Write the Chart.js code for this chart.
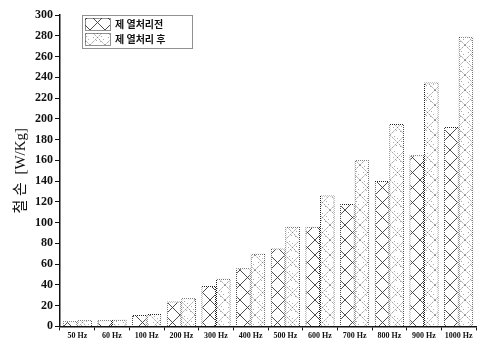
<!DOCTYPE html>
<html>
<head>
<meta charset="utf-8">
<script src="https://cdn.jsdelivr.net/npm/chart.js@4/dist/chart.umd.min.js"></script>
<style>
  html, body { margin: 0; padding: 0; background: #fff; }
  #wrap { width: 478px; height: 345px; }
</style>
</head>
<body>
<div id="wrap"><canvas id="c" width="478" height="345"></canvas></div>
<script>
// Iron loss per frequency, before and after re-annealing
const categories = ['50 Hz', '60 Hz', '100 Hz', '200 Hz', '300 Hz', '400 Hz', '500 Hz', '600 Hz', '700 Hz', '800 Hz', '900 Hz', '1000 Hz'];
const seriesNames = ['제 열처리전', '제 열처리 후'];
const beforeValues = [5, 6, 11, 24, 39, 56, 75, 96, 118, 140, 165, 192];
const afterValues  = [6, 6.5, 12, 27, 46, 70, 96, 126, 160, 195, 235, 279];
const yTicks = [0, 20, 40, 60, 80, 100, 120, 140, 160, 180, 200, 220, 240, 260, 280, 300];

// Cross-hatch fill patterns
function hatch(light) {
  const s = 15;
  const p = document.createElement('canvas');
  p.width = s; p.height = s;
  const g = p.getContext('2d');
  g.fillStyle = '#fff';
  g.fillRect(0, 0, s, s);
  g.strokeStyle = light ? '#777' : '#3a3a3a';
  g.lineWidth = light ? 0.8 : 0.9;
  if (light) g.setLineDash([1.5, 1]);
  g.beginPath();
  g.moveTo(0, 0); g.lineTo(s, s);
  g.moveTo(s, 0); g.lineTo(0, s);
  g.stroke();
  if (light) {
    g.fillStyle = '#aaa';
    const dots = [[3,7],[7,3],[10,11],[11,6],[2,12],[6,10],[12,2],[4,1],[13,9]];
    dots.forEach(d => g.fillRect(d[0], d[1], 1, 1));
  }
  return g.createPattern(p, 'repeat');
}
function dotted() {
  const p = document.createElement('canvas');
  p.width = 2; p.height = 2;
  const g = p.getContext('2d');
  g.fillStyle = '#fff'; g.fillRect(0, 0, 2, 2);
  g.fillStyle = '#222';
  g.fillRect(0, 0, 1, 1); g.fillRect(1, 1, 1, 1);
  return g.createPattern(p, 'repeat');
}
const fillBefore = hatch(false);
const fillAfter = hatch(true);
const edge = dotted();

const serif = '"Liberation Serif", "DejaVu Serif", serif';

// Legend box drawn inside the plot area
const boxLegend = {
  id: 'boxLegend',
  afterDraw(chart) {
    const ctx = chart.ctx;
    const x = 82, y = 15, w = 110, h = 33;
    ctx.save();
    ctx.fillStyle = '#fff';
    ctx.fillRect(x, y, w, h);
    ctx.strokeStyle = '#222';
    ctx.lineWidth = 1;
    ctx.setLineDash([1, 1]);
    ctx.strokeRect(x + 0.5, y + 0.5, w, h);
    const fills = [fillBefore, fillAfter];
    chart.data.datasets.forEach((ds, i) => {
      const ry = y + 3 + i * 15;
      ctx.fillStyle = fills[i];
      ctx.fillRect(x + 3, ry, 25, 12);
      ctx.strokeStyle = '#222';
      ctx.setLineDash([1, 1]);
      ctx.strokeRect(x + 3.5, ry + 0.5, 25, 12);
      ctx.setLineDash([]);
      ctx.fillStyle = '#111';
      ctx.font = 'bold 10px "Noto Sans CJK KR", sans-serif';
      ctx.textBaseline = 'middle';
      ctx.fillText(ds.label, x + 33, ry + 6.5);
    });
    ctx.restore();
  }
};

new Chart(document.getElementById('c'), {
  type: 'bar',
  data: {
    labels: categories,
    datasets: [
      { label: seriesNames[0], data: beforeValues, backgroundColor: fillBefore, borderColor: edge, borderWidth: 1 },
      { label: seriesNames[1], data: afterValues, backgroundColor: fillAfter, borderColor: edge, borderWidth: 1 }
    ]
  },
  options: {
    responsive: false,
    animation: false,
    layout: { padding: { top: 15, right: 2, bottom: 3, left: 12 } },
    datasets: { bar: { categoryPercentage: 0.84, barPercentage: 1.0 } },
    plugins: { legend: { display: false }, tooltip: { enabled: false } },
    scales: {
      x: {
        offset: true,
        border: { color: '#111', width: 1.5 },
        grid: { drawOnChartArea: false, drawTicks: true, tickLength: 4, color: '#111', offset: true },
        ticks: { color: '#111', font: { family: serif, size: 8, weight: 'bold' }, maxRotation: 0, autoSkip: false, padding: 1 }
      },
      y: {
        min: 0, max: 300,
        afterFit(s) { s.width = 48; },
        afterBuildTicks(s) {
          const t = [];
          for (let v = 0; v <= 300; v += 10) t.push({ value: v });
          s.ticks = t;
        },
        border: { color: '#111', width: 1.5 },
        grid: { drawOnChartArea: false, tickLength: 5, color: '#111' },
        ticks: {
          color: '#111',
          font: { family: serif, size: 12, weight: 'bold' },
          padding: 2,
          callback: v => yTicks.includes(v) ? v : ''
        },
        title: {
          display: true,
          text: '철 손  [W/Kg]',
          color: '#111',
          font: { family: '"Liberation Serif", "Noto Sans CJK KR", serif', size: 15 },
          padding: { top: 0, bottom: 0 }
        }
      }
    }
  },
  plugins: [boxLegend]
});
</script>
</body>
</html>
